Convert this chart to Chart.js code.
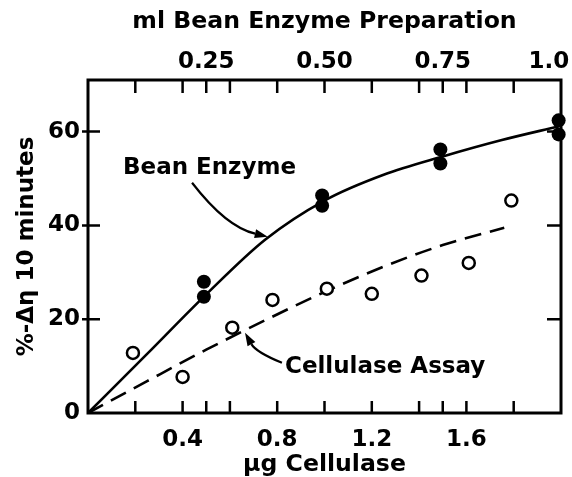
<!DOCTYPE html>
<html>
<head>
<meta charset="utf-8">
<script src="https://cdn.jsdelivr.net/npm/chart.js@4.4.1/dist/chart.umd.min.js"></script>
<style>
  html, body { margin: 0; padding: 0; background: #fff; }
  #wrap { width: 572px; height: 477px; }
</style>
</head>
<body>
<div id="wrap"><canvas id="chart" width="572" height="477"></canvas></div>
<script>
// values (x in µg cellulase, y in %-Δη 10 minutes)
const beanDoseUg = [0.49, 0.49, 0.99, 0.99, 1.49, 1.49, 1.99, 1.99];
const beanDrop = [28.0, 24.8, 46.4, 44.2, 56.2, 53.2, 62.4, 59.4];

const cellDoseUg = [0.19, 0.40, 0.61, 0.78, 1.01, 1.20, 1.41, 1.61, 1.79];
const cellDrop = [12.8, 7.7, 18.2, 24.1, 26.5, 25.4, 29.3, 32.0, 45.3];

// hand-drawn fitted curves
const beanCurveX = [0, 0.25, 0.5, 0.75, 1.0, 1.25, 1.5, 1.75, 1.99];
const beanCurveY = [0, 12.6, 25.3, 37.0, 45.3, 50.8, 54.7, 58.2, 61.1];
const cellCurveX = [0, 0.25, 0.5, 0.75, 1.0, 1.25, 1.5, 1.76];
const cellCurveY = [0, 6.8, 13.5, 19.8, 25.8, 31.2, 35.8, 39.5];

// axes ticks
const bottomTicks = [0.2, 0.4, 0.5, 0.6, 0.8, 1.0, 1.2, 1.4, 1.5, 1.6, 1.8];
const bottomLabeled = [0.4, 0.8, 1.2, 1.6];
const bottomLabels = ['0.4', '0.8', '1.2', '1.6'];
const topTicks = [0.1, 0.2, 0.25, 0.3, 0.4, 0.5, 0.6, 0.7, 0.75, 0.8, 0.9, 1.0];
const topLabeled = [0.25, 0.5, 0.75, 1.0];
const topLabels = ['0.25', '0.50', '0.75', '1.0'];
const leftTicks = [0, 20, 40, 60];
const leftLabels = ['0', '20', '40', '60'];
const rightTicks = [20, 40, 60];

const pairs = (xs, ys) => xs.map((x, i) => ({ x, y: ys[i] }));
const pickLabel = (vals, labels) => v => {
  const i = vals.findIndex(t => Math.abs(t - v) < 1e-6);
  return i < 0 ? '' : labels[i];
};

const FONT = { family: 'DejaVu Sans', weight: 'bold', size: 23 };
const TITLE_FONT = { family: 'DejaVu Sans', weight: 'bold', size: 23.6 };
const INK = '#000';

// annotation placement in data units
const notes = [
  { text: 'Bean Enzyme', x: 0.148, y: 50.9,
    from: [0.44, 49.1], ctrl: [0.584, 39.7], to: [0.76, 37.6] },
  { text: 'Cellulase Assay', x: 0.833, y: 8.5,
    from: [0.82, 10.7], ctrl: [0.71, 13.0], to: [0.664, 17.1] }
];

// frame, inward tick marks and the labelled arrows
const decor = {
  id: 'decor',
  afterDraw(chart) {
    const { ctx, chartArea: a, scales } = chart;
    ctx.save();
    ctx.strokeStyle = INK;
    ctx.fillStyle = INK;
    ctx.lineWidth = 3;
    ctx.strokeRect(a.left, a.top, a.right - a.left, a.bottom - a.top);

    ctx.lineWidth = 2.5;
    ctx.beginPath();
    scales.x.ticks.forEach(t => {
      const p = scales.x.getPixelForValue(t.value);
      ctx.moveTo(p, a.bottom); ctx.lineTo(p, a.bottom - 12);
    });
    scales.x2.ticks.forEach(t => {
      const p = scales.x2.getPixelForValue(t.value);
      if (p > a.right - 3) return;
      ctx.moveTo(p, a.top); ctx.lineTo(p, a.top + 13);
    });
    scales.y.ticks.forEach(t => {
      const p = scales.y.getPixelForValue(t.value);
      if (p > a.bottom - 3) return;
      ctx.moveTo(a.left - 6, p); ctx.lineTo(a.left + 12, p);
    });
    scales.y2.ticks.forEach(t => {
      const p = scales.y2.getPixelForValue(t.value);
      ctx.moveTo(a.right, p); ctx.lineTo(a.right - 14, p);
    });
    ctx.stroke();

    const X = v => scales.x.getPixelForValue(v);
    const Y = v => scales.y.getPixelForValue(v);
    ctx.font = `bold ${FONT.size}px "${FONT.family}"`;
    ctx.textBaseline = 'alphabetic';
    ctx.textAlign = 'left';
    notes.forEach(n => {
      ctx.fillText(n.text, X(n.x), Y(n.y));
      const [x0, y0] = [X(n.from[0]), Y(n.from[1])];
      const [cx, cy] = [X(n.ctrl[0]), Y(n.ctrl[1])];
      const [x1, y1] = [X(n.to[0]), Y(n.to[1])];
      const ang = Math.atan2(y1 - cy, x1 - cx);
      const len = 13, half = 4.5;
      const bx = x1 - len * Math.cos(ang), by = y1 - len * Math.sin(ang);
      ctx.lineWidth = 2.2;
      ctx.beginPath();
      ctx.moveTo(x0, y0);
      ctx.quadraticCurveTo(cx, cy, bx, by);
      ctx.stroke();
      ctx.beginPath();
      ctx.moveTo(x1, y1);
      ctx.lineTo(bx + half * Math.sin(ang), by - half * Math.cos(ang));
      ctx.lineTo(bx - half * Math.sin(ang), by + half * Math.cos(ang));
      ctx.closePath();
      ctx.fill();
    });
    ctx.restore();
  }
};

const noPad = s => { s.paddingLeft = 0; s.paddingRight = 0; s.paddingTop = 0; s.paddingBottom = 0; };
const setTicks = vals => s => { s.ticks = vals.map(v => ({ value: v })); };

new Chart(document.getElementById('chart'), {
  type: 'scatter',
  data: {
    datasets: [
      {
        data: pairs(beanDoseUg, beanDrop),
        pointRadius: 7, pointBackgroundColor: INK, pointBorderColor: INK, pointBorderWidth: 0,
        clip: false
      },
      {
        data: pairs(cellDoseUg, cellDrop),
        pointRadius: 6, pointBackgroundColor: '#fff', pointBorderColor: INK, pointBorderWidth: 2.5,
        clip: false
      },
      {
        type: 'line',
        data: pairs(beanCurveX, beanCurveY),
        borderColor: INK, borderWidth: 2.6, pointRadius: 0,
        cubicInterpolationMode: 'monotone', fill: false, clip: false
      },
      {
        type: 'line',
        data: pairs(cellCurveX, cellCurveY),
        borderColor: INK, borderWidth: 2.6, borderDash: [17, 9], pointRadius: 0,
        cubicInterpolationMode: 'monotone', fill: false
      }
    ]
  },
  options: {
    responsive: false,
    animation: false,
    events: [],
    layout: { padding: 0 },
    plugins: { legend: { display: false }, tooltip: { enabled: false } },
    scales: {
      x: {
        type: 'linear', position: 'bottom', min: 0, max: 2,
        afterBuildTicks: setTicks(bottomTicks),
        afterFit: s => { s.height = 64; noPad(s); },
        grid: { display: false, drawTicks: false }, border: { display: false },
        ticks: { autoSkip: false, maxRotation: 0, padding: 13, color: INK, font: FONT,
                 callback: pickLabel(bottomLabeled, bottomLabels) },
        title: { display: true, text: 'µg Cellulase', color: INK, font: TITLE_FONT, padding: { top: 0, bottom: -2 } }
      },
      x2: {
        type: 'linear', position: 'top', min: 0, max: 1,
        afterBuildTicks: setTicks(topTicks),
        afterFit: s => { s.height = 80; noPad(s); },
        grid: { display: false, drawTicks: false }, border: { display: false },
        ticks: { autoSkip: false, maxRotation: 0, padding: 4, color: INK, font: FONT,
                 callback: v => { const l = pickLabel(topLabeled, topLabels)(v); return v >= 1 ? l + '   ' : l; } },
        title: { display: true, text: 'ml Bean Enzyme Preparation', color: INK, font: TITLE_FONT, padding: { top: 8, bottom: 0 } }
      },
      y: {
        type: 'linear', position: 'left', min: 0, max: 71,
        afterBuildTicks: setTicks(leftTicks),
        afterFit: s => { s.width = 88; noPad(s); },
        grid: { display: false, drawTicks: false }, border: { display: false },
        ticks: { autoSkip: false, padding: 8, color: INK, font: FONT,
                 callback: pickLabel(leftTicks, leftLabels) },
        title: { display: true, text: '%-Δη 10 minutes', color: INK, font: FONT, padding: { top: 13, bottom: 0 } }
      },
      y2: {
        type: 'linear', position: 'right', min: 0, max: 71,
        afterBuildTicks: setTicks(rightTicks),
        afterFit: s => { s.width = 11; noPad(s); },
        grid: { display: false, drawTicks: false }, border: { display: false },
        ticks: { display: false }
      }
    }
  },
  plugins: [decor]
});
</script>
</body>
</html>
